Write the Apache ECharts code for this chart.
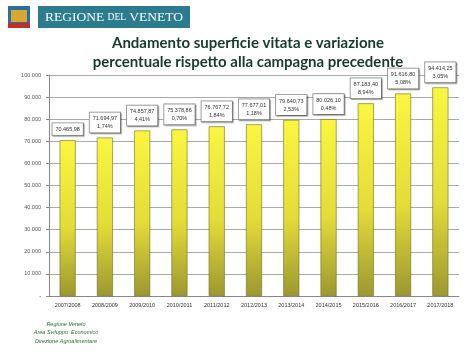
<!DOCTYPE html>
<html><head><meta charset="utf-8">
<script src="https://cdn.jsdelivr.net/npm/echarts@6/dist/echarts.min.js"></script>
<style>html,body{margin:0;padding:0;background:#fff}#c{width:474px;height:355px}</style>
</head><body><div id="c"></div>
<script>
const categories = ['2007/2008','2008/2009','2009/2010','2010/2011','2011/2012','2012/2013','2013/2014','2014/2015','2015/2016','2016/2017','2017/2018'];
const surface = [70465.98, 71694.97, 74857.87, 75378.86, 76767.72, 77677.01, 79640.73, 80026.10, 87183.40, 91616.80, 94414.25];
const valueLabels = ['70.465,98','71.694,97','74.857,87','75.378,86','76.767,72','77.677,01','79.640,73','80.026,10','87.183,40','91.616,80','94.414,25'];
const pctLabels = ['','1,74%','4,41%','0,70%','1,84%','1,18%','2,53%','0,48%','8,94%','5,08%','3,05%'];
const yTicks = [0,10000,20000,30000,40000,50000,60000,70000,80000,90000,100000];

function fmtTick(v){ if(v===0) return '-'; return String(v).replace(/\B(?=(\d{3})+(?!\d))/g,'.'); }

const chart = echarts.init(document.getElementById('c'), null, {renderer:'canvas'});
chart.setOption({
  backgroundColor:'#fff',
  animation:false,
  title:{
    text:'Andamento superficie vitata e variazione\npercentuale rispetto alla campagna precedente',
    left:243, top:29, textAlign:'center',
    textStyle:{fontFamily:'Lato', fontSize:15, fontWeight:'bold', color:'#173a2c', lineHeight:19}
  },
  graphic:[
    {type:'rect', shape:{x:38,y:6,width:152,height:22}, style:{fill:'#2b7c8e'}},
    {type:'text', x:114, y:17, style:{
      text:'{a|REGIONE }{b|DEL}{a| VENETO}', align:'center', verticalAlign:'middle',
      rich:{a:{fontFamily:'Liberation Serif', fontSize:13.5, fill:'#fff'}, b:{fontFamily:'Liberation Serif', fontSize:9.5, fill:'#fff'}}
    }},
    {type:'rect', shape:{x:8,y:6,width:22,height:22}, style:{fill:'#2b6fa0'}},
    {type:'rect', shape:{x:11,y:10,width:16,height:12}, style:{fill:'#d8a830'}},
    {type:'rect', shape:{x:8,y:23,width:22,height:5}, style:{fill:'#c0302a'}},
    {type:'text', x:66, y:320, style:{text:'Regione Veneto\nArea Sviluppo  Economico\nDirezione Agroalimentare', font:'italic 5.5px "Liberation Sans"', fill:'#2e6a35', lineHeight:8.5, align:'center'}}
  ],
  grid:{left:49, right:15, top:75, bottom:59},
  xAxis:{
    type:'category', data:categories,
    axisLine:{lineStyle:{color:'#888'}}, axisTick:{show:false},
    axisLabel:{interval:0, fontSize:5.5, color:'#333', margin:6, fontFamily:'Liberation Sans'}
  },
  yAxis:{
    type:'value', min:0, max:100000, interval:10000,
    axisLine:{show:true, lineStyle:{color:'#888'}},
    axisTick:{show:true, length:3, lineStyle:{color:'#888'}},
    splitLine:{lineStyle:{color:'#aaa', width:1}},
    axisLabel:{fontSize:5.5, color:'#555', margin:8, fontFamily:'Liberation Sans', formatter:fmtTick}
  },
  series:[{
    type:'bar', data:surface, barWidth:16,
    itemStyle:{
      color:new echarts.graphic.LinearGradient(0,0,0,1,[{offset:0,color:'#faf640'},{offset:0.55,color:'#e4dc38'},{offset:1,color:'#9c9830'}]),
      borderColor:'#6e6c20', borderWidth:0.6
    },
    label:{
      show:true, position:'top', distance:5,
      formatter:p => pctLabels[p.dataIndex] ? valueLabels[p.dataIndex]+'\n'+pctLabels[p.dataIndex] : valueLabels[p.dataIndex],
      fontSize:5.5, lineHeight:8, color:'#333', fontFamily:'Liberation Sans',
      backgroundColor:'#fff', borderColor:'#888', borderWidth:0.8, padding:[2,3],
      shadowColor:'rgba(0,0,0,0.3)', shadowOffsetX:1, shadowOffsetY:1, shadowBlur:1
    }
  }]
});
</script></body></html>
